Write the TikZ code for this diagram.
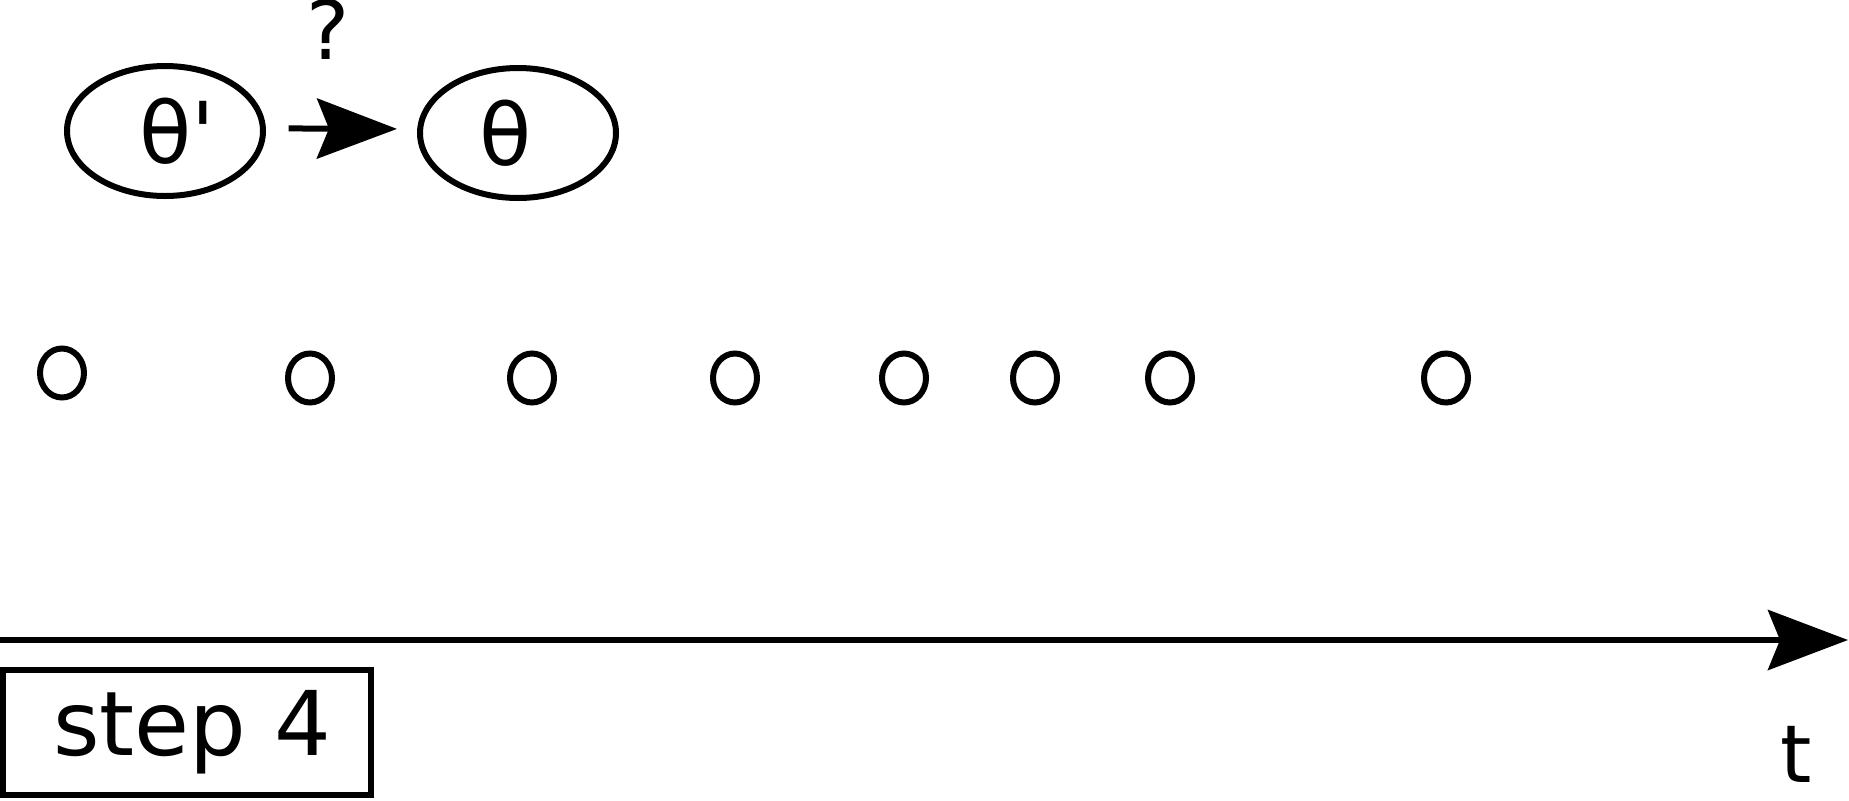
\documentclass[tikz,border=0pt]{standalone}
\usepackage{fontspec}
\setmainfont{DejaVu Sans}
\usetikzlibrary{arrows.meta,shapes.geometric}
\begin{document}
\begin{tikzpicture}[x=0.75pt,y=-0.75pt,
  bigell/.style={ellipse,draw,line width=4.5pt,inner sep=0pt,minimum width=147pt,minimum height=97.5pt,font=\fontsize{64pt}{70pt}\selectfont},
  obs/.style={ellipse,draw,line width=4.5pt,inner sep=0pt,minimum width=33pt,minimum height=36.75pt},
  stepbox/.style={rectangle,draw,line width=4.5pt,inner sep=0pt,minimum width=276pt,minimum height=93.75pt,font=\fontsize{67pt}{73pt}\selectfont},
  bigtip/.style={-{Stealth[length=60pt,width=45pt,inset=9pt]}}
]
\useasboundingbox (0,0) rectangle (1849,800);
% parameter nodes
\node[bigell] (a) at (165,131) {\kern18pt θ\textquotesingle};
\node[bigell] (b) at (518,133) {θ\kern18pt};
\draw[bigtip,line width=4.5pt,shorten <=17pt,shorten >=15pt] ([yshift=2pt]a.east) -- ([yshift=3pt]b.west);
\node[anchor=base,font=\fontsize{61pt}{66pt}\selectfont] (q) at (328,59) {?};
% observations
\node[obs] (o1) at (62,373) {};
\node[obs] (o2) at (310,378) {};
\node[obs] (o3) at (532,378) {};
\node[obs] (o4) at (735,378) {};
\node[obs] (o5) at (904,378) {};
\node[obs] (o6) at (1035,378) {};
\node[obs] (o7) at (1170,378) {};
\node[obs] (o8) at (1446,378) {};
% time axis
\coordinate (t0) at (0,640);
\coordinate (t1) at (1848,640);
\draw[bigtip,line width=4.5pt] (t0) -- (t1);
\node[anchor=base,font=\fontsize{60pt}{66pt}\selectfont] (tl) at (1796,782) {t};
% step box
\node[stepbox] (s) at (187,732.5) {\kern8pt step 4};
\end{tikzpicture}
\end{document}
